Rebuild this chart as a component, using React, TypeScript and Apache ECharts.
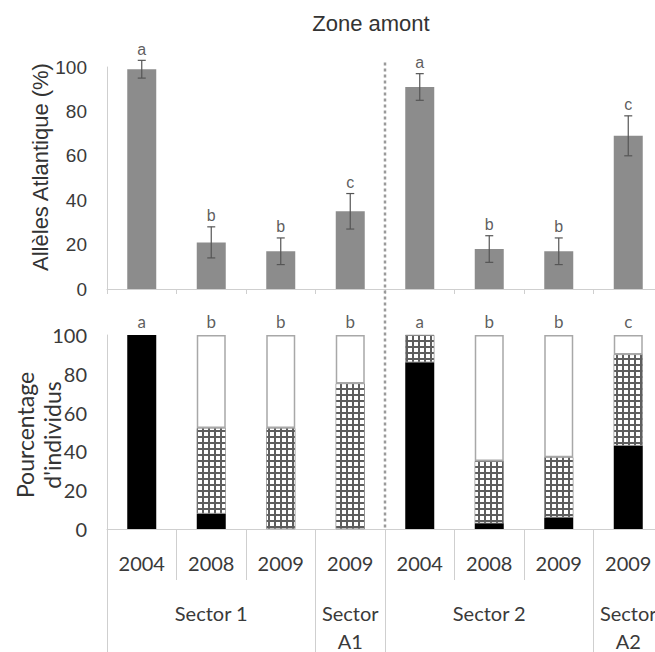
import React, { useEffect, useRef } from 'react';
import * as echarts from 'echarts';

const years = ['2004', '2008', '2009', '2009', '2004', '2008', '2009', '2009'];
const sectors = ['', 'Sector 1', '', 'Sector\nA1', '', 'Sector 2', '', 'Sector\nA2'];
const sectorStarts = [0, 3, 4, 7];

const alleles = [99, 21, 17, 35, 91, 18, 17, 69];
const allelesErr = [4, 7, 6, 8, 6, 6, 6, 9];
const allelesLetters = ['a', 'b', 'b', 'c', 'a', 'b', 'b', 'c'];

const blackPct = [100, 8, 0, 0, 86, 3, 6, 43];
const checkerPct = [0, 44, 52, 75, 14, 32, 31, 47];
const whitePct = [0, 48, 48, 25, 0, 65, 63, 10];
const indivLetters = ['a', 'b', 'b', 'b', 'a', 'b', 'b', 'c'];

const AX = '#cfcfcf';
const TXT = '#3a3a3a';

export default function App() {
  const ref = useRef<HTMLDivElement>(null);
  useEffect(() => {
    const chart = echarts.init(ref.current!, null, { renderer: 'svg' });
    const nz = (a: number[]) => a.map((v) => (v === 0 ? '-' : v));
    const texts: any[] = [
      {
        id: 'title', type: 'text', x: 371, y: 23,
        style: { text: 'Zone amont', fontSize: 22, fontFamily: 'Liberation Sans', fill: '#333', align: 'center', verticalAlign: 'middle' },
      },
      {
        id: 'ytop', type: 'text', x: 40, y: 167, rotation: Math.PI / 2,
        style: { text: 'Allèles Atlantique (%)', fontSize: 22, fontFamily: 'Liberation Sans', fill: '#333', align: 'center', verticalAlign: 'middle' },
      },
      {
        id: 'ybot', type: 'text', x: 38, y: 435, rotation: Math.PI / 2,
        style: { text: "Pourcentage\nd'individus", fontSize: 23, lineHeight: 27, fontFamily: 'Lato', fill: '#333', align: 'center', verticalAlign: 'middle' },
      },
    ];
    const option: any = {
      animation: false,
      backgroundColor: '#ffffff',
      grid: [
        { left: 107, top: 67, width: 556, height: 222, outerBoundsMode: 'none', containLabel: false },
        { left: 107, top: 335, width: 556, height: 194, outerBoundsMode: 'none', containLabel: false },
      ],
      xAxis: [
        {
          type: 'category', gridIndex: 0, data: years,
          axisLine: { show: true, lineStyle: { color: AX } },
          axisTick: { show: true, length: 5, lineStyle: { color: AX } },
          axisLabel: { show: false },
        },
        {
          type: 'category', gridIndex: 1, data: years, position: 'bottom',
          axisLine: { show: true, lineStyle: { color: AX } },
          axisTick: { show: true, length: 51, lineStyle: { color: AX } },
          axisLabel: { interval: 0, margin: 24, fontFamily: 'Lato', fontSize: 20, color: TXT },
        },
        {
          type: 'category', gridIndex: 1, data: sectors, position: 'bottom',
          axisLine: { show: false },
          axisTick: { show: true, length: 125, interval: (i: number) => sectorStarts.includes(i), lineStyle: { color: AX } },
          axisLabel: { interval: 0, margin: 70, lineHeight: 28, fontFamily: 'Lato', fontSize: 20, color: TXT },
        },
      ],
      yAxis: [
        {
          type: 'value', gridIndex: 0, min: 0, max: 100, interval: 20,
          axisLine: { show: true, lineStyle: { color: AX } },
          axisTick: { show: false }, splitLine: { show: false },
          axisLabel: { margin: 20, fontFamily: 'Liberation Sans', fontSize: 19, color: TXT },
        },
        {
          type: 'value', gridIndex: 1, min: 0, max: 100, interval: 20,
          axisLine: { show: true, lineStyle: { color: AX } },
          axisTick: { show: false }, splitLine: { show: false },
          axisLabel: { margin: 20, fontFamily: 'Lato', fontSize: 20, color: TXT },
        },
      ],
      series: [
        {
          type: 'bar', xAxisIndex: 0, yAxisIndex: 0, data: alleles, barWidth: 29,
          itemStyle: { color: '#8c8c8c' },
        },
        {
          type: 'custom', xAxisIndex: 0, yAxisIndex: 0, z: 4, clip: false,
          data: alleles.map((v, i) => [i, v, allelesErr[i]]),
          renderItem: (_p: any, api: any) => {
            const x = api.value(0), v = api.value(1), e = api.value(2);
            const hi = api.coord([x, v + e]);
            const lo = api.coord([x, v - e]);
            const c = 4;
            const style = { stroke: '#555', lineWidth: 1.2 };
            return {
              type: 'group',
              children: [
                { type: 'line', shape: { x1: hi[0], y1: hi[1], x2: lo[0], y2: lo[1] }, style },
                { type: 'line', shape: { x1: hi[0] - c, y1: hi[1], x2: hi[0] + c, y2: hi[1] }, style },
                { type: 'line', shape: { x1: lo[0] - c, y1: lo[1], x2: lo[0] + c, y2: lo[1] }, style },
              ],
            };
          },
        },
        {
          type: 'scatter', xAxisIndex: 0, yAxisIndex: 0, symbolSize: 0, clip: false,
          itemStyle: { color: 'transparent' },
          data: alleles.map((v, i) => [i, v + allelesErr[i]]),
          label: {
            show: true, position: 'top', distance: 3,
            formatter: (p: any) => allelesLetters[p.dataIndex],
            fontFamily: 'Liberation Sans', fontSize: 16, color: '#333',
          },
        },
        {
          type: 'bar', xAxisIndex: 1, yAxisIndex: 1, stack: 'p', data: nz(blackPct), barWidth: 29,
          itemStyle: { color: '#000000' },
        },
        {
          type: 'bar', xAxisIndex: 1, yAxisIndex: 1, stack: 'p', data: nz(checkerPct), barWidth: 29,
          itemStyle: {
            color: '#5e5e5e',
            borderColor: '#888', borderWidth: 0.5,
            decal: {
              symbol: 'rect', color: '#ffffff', symbolSize: 1,
              dashArrayX: [3.5, 1.5], dashArrayY: [3.5, 1.5],
            },
          },
        },
        {
          type: 'bar', xAxisIndex: 1, yAxisIndex: 1, stack: 'p', data: nz(whitePct), barWidth: 29,
          itemStyle: { color: '#ffffff', borderColor: '#a8a8a8', borderWidth: 1.5 },
        },
        {
          type: 'scatter', xAxisIndex: 1, yAxisIndex: 1, symbolSize: 0, clip: false,
          itemStyle: { color: 'transparent' },
          data: indivLetters.map((_, i) => [i, 100]),
          label: {
            show: true, position: 'top', distance: 5,
            formatter: (p: any) => indivLetters[p.dataIndex],
            fontFamily: 'Lato', fontSize: 17, color: '#333',
          },
        },
      ],
      graphic: texts,
    };
    chart.setOption(option);

    const xL = chart.convertToPixel({ xAxisIndex: 0 }, 3) as number;
    const xR = chart.convertToPixel({ xAxisIndex: 0 }, 4) as number;
    const xm = (xL + xR) / 2;
    const yTop = chart.convertToPixel({ yAxisIndex: 0 }, 102) as number;
    const yBot = chart.convertToPixel({ yAxisIndex: 1 }, 0) as number;
    chart.setOption({
      graphic: [
        ...texts,
        {
          id: 'divider', type: 'line', z: 10,
          shape: { x1: xm, y1: yTop, x2: xm, y2: yBot },
          style: { stroke: '#9a9a9a', lineWidth: 2.5, lineDash: [3, 3] },
        },
      ],
    });

    return () => chart.dispose();
  }, []);
  return <div ref={ref} style={{ position: 'absolute', left: 0, top: 0, width: 655, height: 652 }} />;
}
